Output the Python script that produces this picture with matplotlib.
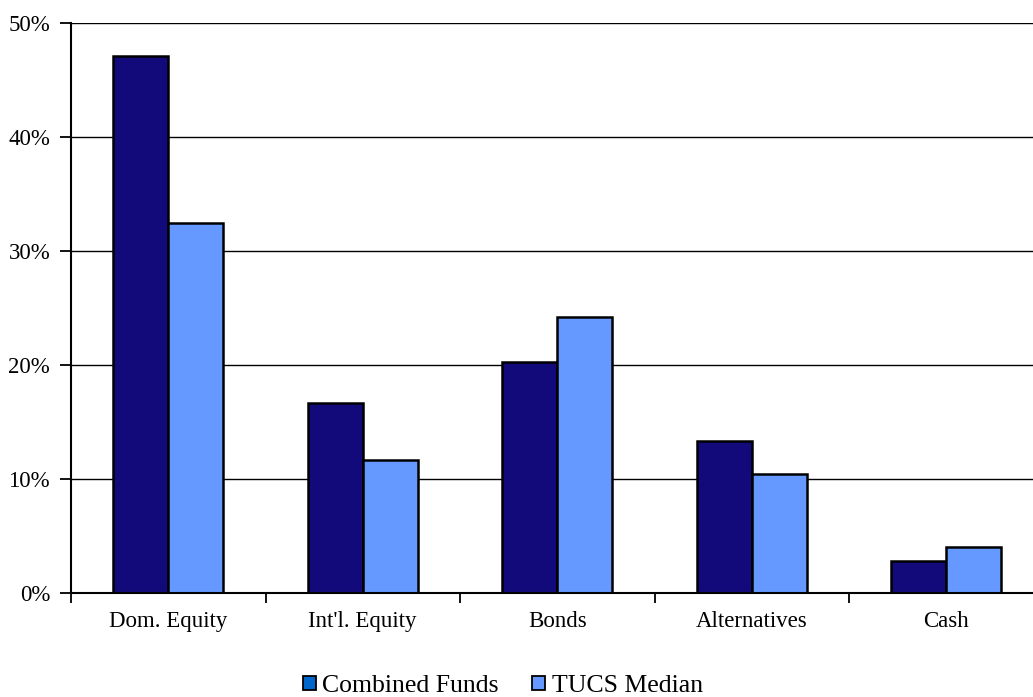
import numpy as np
import matplotlib.pyplot as plt
from matplotlib.patches import Patch

categories = ['Dom. Equity', "Int'l. Equity", 'Bonds', 'Alternatives', 'Cash']
combined_funds = [47.1, 16.7, 20.3, 13.3, 2.8]
tucs_median = [32.5, 11.7, 24.2, 10.4, 4.0]
y_ticks = [0, 10, 20, 30, 40, 50]

plt.rcParams['font.family'] = ['Liberation Serif', 'DejaVu Serif']

fig = plt.figure(figsize=(10.33, 6.97), dpi=100)
ax = fig.add_axes([71 / 1033, 104 / 697, 972.5 / 1033, 570 / 697])

x = np.arange(len(categories))
w = 0.283
ax.bar(x - w / 2, combined_funds, w, color='#120A7A', edgecolor='black', linewidth=1.8, zorder=3)
ax.bar(x + w / 2, tucs_median, w, color='#6699FF', edgecolor='black', linewidth=1.8, zorder=3)

ax.set_xlim(-0.5, len(categories) - 0.5)
ax.set_ylim(0, 50)
ax.set_yticks(y_ticks)
ax.set_yticklabels([f'{v}%' for v in y_ticks], fontsize=16.5)
ax.set_xticks(x)
ax.set_xticklabels(categories, fontsize=16.5)
ax.set_xticks(np.arange(-0.5, len(categories), 1.0), minor=True)
ax.tick_params(axis='x', which='major', length=0, pad=13)
ax.tick_params(axis='x', which='minor', length=7, width=1.3, direction='out')
ax.tick_params(axis='y', length=8, width=1.3, direction='out', pad=7)

ax.grid(axis='y', color='black', linewidth=1.0, zorder=0)
for s in ['top', 'right']:
    ax.spines[s].set_visible(False)
ax.spines['left'].set_linewidth(1.5)
ax.spines['bottom'].set_linewidth(1.5)
ax.spines['left'].set_zorder(4)
ax.spines['bottom'].set_zorder(4)

handles = [Patch(facecolor='#0066CC', edgecolor='black', linewidth=1.3),
           Patch(facecolor='#6699FF', edgecolor='black', linewidth=1.3)]
fig.legend(handles, ['Combined Funds', 'TUCS Median'], loc='center', bbox_to_anchor=(503 / 1033, 1 - 686 / 697),
           ncol=2, frameon=False, fontsize=18.5, handlelength=0.5, handleheight=0.5,
           handletextpad=0.25, columnspacing=1.3)

fig.savefig('out.png', dpi=100)
